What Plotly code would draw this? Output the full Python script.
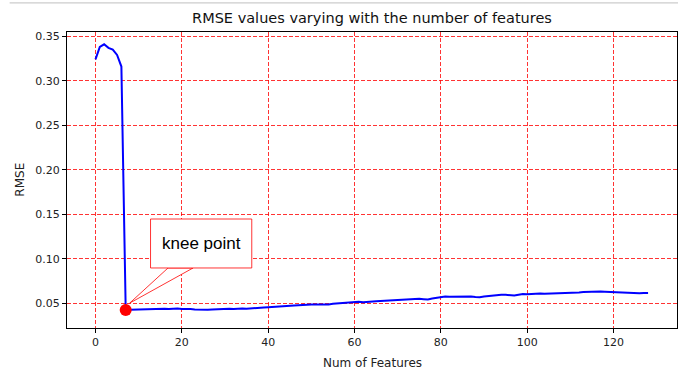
import plotly.graph_objects as go

# ---- data ----
num_features = list(range(0, 129))
rmse_head = [0.324, 0.338, 0.341, 0.337, 0.335, 0.329, 0.316]
rmse_tail = [
    0.0425,
    0.0430, 0.0432, 0.0433, 0.0432, 0.0435, 0.0434, 0.0437, 0.0436, 0.0440, 0.0437,
    0.0441, 0.0443, 0.0437, 0.0439, 0.0436, 0.0433, 0.0430, 0.0428, 0.0430, 0.0432,
    0.0435, 0.0434, 0.0437, 0.0440, 0.0438, 0.0442, 0.0444, 0.0441, 0.0446, 0.0448,
    0.0451, 0.0453, 0.0456, 0.0458, 0.0461, 0.0464, 0.0467, 0.0472, 0.0476, 0.0480,
    0.0484, 0.0487, 0.0489, 0.0487, 0.0486, 0.0484, 0.0489, 0.0495, 0.0500, 0.0503,
    0.0506, 0.0510, 0.0512, 0.0518, 0.0514, 0.0520, 0.0522, 0.0525, 0.0528, 0.0531,
    0.0535, 0.0538, 0.0542, 0.0540, 0.0544, 0.0547, 0.0549, 0.0552, 0.0548, 0.0545,
    0.0555, 0.0565, 0.0575, 0.0578, 0.0574, 0.0576, 0.0572, 0.0575, 0.0577, 0.0579,
    0.0573, 0.0570, 0.0578, 0.0585, 0.0587, 0.0595, 0.0598, 0.0596, 0.0592, 0.0590,
    0.0598, 0.0606, 0.0604, 0.0609, 0.0610, 0.0611, 0.0609, 0.0610, 0.0613, 0.0612,
    0.0615, 0.0617, 0.0622, 0.0621, 0.0624, 0.0627, 0.0629, 0.0633, 0.0635, 0.0633,
    0.0630, 0.0628, 0.0625, 0.0624, 0.0621, 0.0617, 0.0613, 0.0610, 0.0614, 0.0616,
    0.0617,
]
rmse = rmse_head + rmse_tail
knee_index = 7
knee_label = "knee point"
title_text = "RMSE values varying with the number of features"
x_label = "Num of Features"
y_label = "RMSE"
x_ticks = [0, 20, 40, 60, 80, 100, 120]
y_ticks = [0.05, 0.10, 0.15, 0.20, 0.25, 0.30, 0.35]

W, H = 678, 376
ML, MR, MT, MB = 67.3, 1.3, 31.7, 47.7
plot_w = W - ML - MR
plot_h = H - MT - MB

fig = go.Figure()
fig.add_trace(go.Scatter(
    x=num_features, y=rmse, mode="lines",
    line=dict(color="blue", width=2), showlegend=False, hoverinfo="skip",
))
fig.add_trace(go.Scatter(
    x=[num_features[knee_index]], y=[rmse[knee_index]], mode="markers",
    marker=dict(color="red", size=12, line=dict(width=0)), showlegend=False,
))

tick_font = dict(family="DejaVu Sans", size=11, color="#222")
axis_common = dict(
    showline=True, linecolor="black", linewidth=1, mirror=True,
    ticks="outside", ticklen=4, tickcolor="black", tickwidth=1,
    showgrid=True, gridcolor="rgba(255,0,0,0.8)", gridwidth=1, griddash="4px,2px",
    zeroline=False, tickfont=tick_font,
)

fig.update_layout(
    width=W, height=H,
    margin=dict(l=ML, r=MR, t=MT, b=MB, pad=0),
    paper_bgcolor="white", plot_bgcolor="white",
    title=dict(text=title_text, x=(ML + plot_w / 2) / W, xanchor="center",
               y=1 - 17.5 / H, yanchor="middle", yref="container",
               font=dict(family="DejaVu Sans", size=14.5, color="#111")),
    xaxis=dict(range=[-6.6, 134.7], tickvals=x_ticks, **axis_common),
    yaxis=dict(range=[0.0224, 0.3548], tickvals=y_ticks, tickformat=".2f", **axis_common),
)

# axis labels
fig.add_annotation(text=x_label, xref="paper", yref="paper", x=0.5,
                   y=-(363 - (H - MB)) / plot_h, xanchor="center", yanchor="middle",
                   showarrow=False, font=dict(family="DejaVu Sans", size=12, color="#222"))
fig.add_annotation(text=y_label, xref="paper", yref="paper", x=(20 - ML) / plot_w,
                   y=0.5, xanchor="center", yanchor="middle", textangle=-90,
                   showarrow=False, font=dict(family="DejaVu Sans", size=12, color="#222"))

# top notebook separator line
fig.add_shape(type="line", xref="paper", yref="paper",
              x0=(10 - ML) / plot_w, x1=1.01, y0=(H - MB - 2.5) / plot_h, y1=(H - MB - 2.5) / plot_h,
              line=dict(color="#cccccc", width=1.2), layer="above")

# callout box for knee point
kx, ky = num_features[knee_index], rmse[knee_index]
bx0, bx1, by0, by1 = 12.75, 36.2, 0.0898, 0.1448
tipx, tipy = kx + 0.9, ky + 0.0078
fig.add_shape(type="path",
              path=f"M 16.8 {by0} L {tipx} {tipy} L 22.6 {by0} Z",
              xref="x", yref="y", fillcolor="white",
              line=dict(color="red", width=0.8), layer="above")
fig.add_shape(type="rect", xref="x", yref="y", x0=bx0, x1=bx1, y0=by0, y1=by1,
              fillcolor="white", line=dict(color="red", width=0.8), layer="above")
fig.add_annotation(text=knee_label, x=(bx0 + bx1) / 2, y=(by0 + by1) / 2,
                   xref="x", yref="y", showarrow=False,
                   font=dict(family="Liberation Sans", size=17, color="black"))

fig.write_html("out.html", config={"displayModeBar": False},
               post_script="document.body.style.margin='0';document.body.style.overflow='hidden';")
